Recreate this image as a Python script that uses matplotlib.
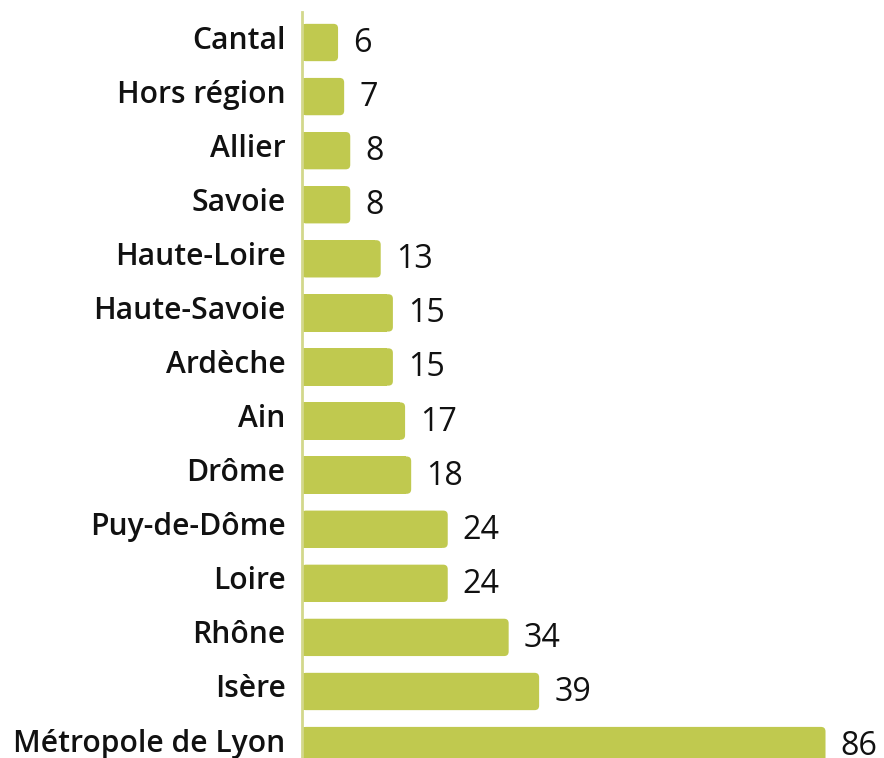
import matplotlib
matplotlib.use("Agg")
import matplotlib.pyplot as plt
from matplotlib.patches import FancyBboxPatch, Rectangle
from matplotlib.transforms import IdentityTransform

categories = ["Cantal", "Hors région", "Allier", "Savoie", "Haute-Loire", "Haute-Savoie",
              "Ardèche", "Ain", "Drôme", "Puy-de-Dôme", "Loire", "Rhône", "Isère",
              "Métropole de Lyon"]
values = [6, 7, 8, 8, 13, 15, 15, 17, 18, 24, 24, 34, 39, 86]

BAR = "#c0c94f"
AXIS = "#d3d88c"
FONT = ["Open Sans", "DejaVu Sans"]

W, H = 884, 758
fig = plt.figure(figsize=(W / 100, H / 100), dpi=100)
x0 = 301.5 / W
ax = fig.add_axes([x0, 0, 1 - x0, 1 - 12 / H])

pos = list(range(len(categories)))
bars = ax.barh(pos, values, height=0.69, color=BAR, zorder=2)
ax.set_ylim(13.23, -0.564)
ax.set_xlim(0, 95.6)
ax.set_xticks([])
ax.set_yticks([])
for s in ["top", "right", "bottom"]:
    ax.spines[s].set_visible(False)
ax.spines["left"].set_color(AXIS)
ax.spines["left"].set_linewidth(2)
ax.spines["left"].set_zorder(3)

fig.canvas.draw()
renderer = fig.canvas.get_renderer()

# rounded right corners
r = 4.5
for b in bars:
    (px0, py0), (px1, py1) = ax.transData.transform(
        [(b.get_x(), b.get_y()), (b.get_x() + b.get_width(), b.get_y() + b.get_height())])
    lo, hi = min(py0, py1), max(py0, py1)
    b.set_visible(False)
    ax.add_patch(FancyBboxPatch((px0, lo), px1 - px0, hi - lo,
                                boxstyle=f"round,pad=0,rounding_size={r}",
                                fc=BAR, ec="none", transform=IdentityTransform(), zorder=2))
    ax.add_patch(Rectangle((px0, lo), (px1 - px0) - r - 1, hi - lo,
                           fc=BAR, ec="none", transform=IdentityTransform(), zorder=2))

def fit_size(text, target_px, **kw):
    t = fig.text(0, 0, text, fontsize=20, **kw)
    w = t.get_window_extent(renderer).width
    t.remove()
    return 20 * target_px / w

lab_size = fit_size("Métropole de Lyon", 271, family=FONT, fontweight="semibold")
val_size = fit_size("86", 37, family=FONT)

for y, v, c in zip(pos, values, categories):
    ax.annotate(str(v), (v, y), xytext=(15, -1), textcoords="offset pixels",
                va="center", ha="left", fontsize=val_size, family=FONT, color="#111111",
                annotation_clip=False)
    ax.annotate(c, (0, y), xytext=(-16, 2), textcoords="offset pixels",
                va="center", ha="right", fontsize=lab_size, family=FONT,
                fontweight="semibold", color="#111111", annotation_clip=False)

fig.savefig("out.png", dpi=100)
